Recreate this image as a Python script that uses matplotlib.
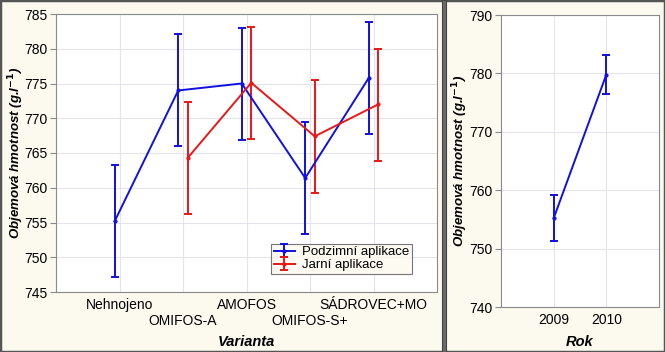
import numpy as np
import matplotlib.pyplot as plt
from matplotlib.patches import Rectangle

plt.rcParams['font.family'] = ['Liberation Sans', 'DejaVu Sans']

# left panel data
varianty = ['Nehnojeno', 'OMIFOS-A', 'AMOFOS', 'OMIFOS-S+', 'SÁDROVEC+MO']
podzim = [755.2, 774.0, 775.0, 761.4, 775.8]
podzim_lo = [747.2, 766.0, 766.8, 753.3, 767.7]
podzim_hi = [763.3, 782.1, 783.0, 769.5, 783.8]
jaro_idx = [1, 2, 3, 4]
jaro = [764.3, 775.1, 767.4, 772.0]
jaro_lo = [756.2, 767.0, 759.3, 763.8]
jaro_hi = [772.4, 783.2, 775.5, 780.0]

# right panel data
roky = ['2009', '2010']
rok_mean = [755.2, 779.8]
rok_lo = [751.3, 776.5]
rok_hi = [759.1, 783.2]

bg = '#fcf9ee'
ylab = r'Objemová hmotnost (g.l$^{\mathbf{-1}}$)'

fig = plt.figure(figsize=(6.65, 3.52), dpi=100, facecolor=bg)

# frame + separator between the two panels
fig.patches.append(Rectangle((0, 0), 1, 1, transform=fig.transFigure, fill=False,
                             edgecolor='#555555', linewidth=2.5))
fig.patches.append(Rectangle((441.5 / 665, 0), 4.5 / 665, 1, transform=fig.transFigure,
                             facecolor='#6a6a6a', edgecolor='#444444', linewidth=0.8))


def style(ax):
    ax.set_facecolor('white')
    ax.grid(True, which='both', color='#e4e4ec', linewidth=0.8)
    ax.set_axisbelow(True)
    for s in ax.spines.values():
        s.set_color('#8a8a8a')
        s.set_linewidth(0.8)
    ax.tick_params(axis='y', labelsize=10, length=4, color='#8a8a8a', pad=2)
    ax.tick_params(axis='x', which='both', labelsize=10, length=0, pad=4)


# ---- left panel
ax = fig.add_axes([56 / 665, 60 / 352, 381 / 665, 278 / 352])
style(ax)
x = np.arange(len(varianty))
off = 0.075
xb = x - off
yerr_b = [np.array(podzim) - np.array(podzim_lo), np.array(podzim_hi) - np.array(podzim)]
ax.errorbar(xb, podzim, yerr=yerr_b, color='#1010e0', lw=1.4, capsize=3, capthick=1.4,
            marker='o', ms=2, label='Podzimní aplikace')
xr = np.array(jaro_idx) + off
yerr_r = [np.array(jaro) - np.array(jaro_lo), np.array(jaro_hi) - np.array(jaro)]
ax.errorbar(xr, jaro, yerr=yerr_r, color='#e81818', lw=1.4, capsize=3, capthick=1.4,
            marker='o', ms=2, label='Jarní aplikace')
ax.set_xlim(-1, 5)
ax.set_ylim(745, 785)
ax.set_yticks(np.arange(745, 786, 5))
# staggered category labels: even ones on the first row, odd ones below
ax.set_xticks(x[::2])
ax.set_xticklabels(varianty[::2])
ax.set_xticks(x[1::2], minor=True)
ax.set_xticklabels(varianty[1::2], minor=True)
ax.tick_params(axis='x', which='minor', pad=16)
ax.set_xlabel('Varianta', fontsize=10.5, fontweight='bold', style='italic')
ax.xaxis.set_label_coords(0.5, -0.155)
ax.set_ylabel(ylab, fontsize=9.5, fontweight='bold', style='italic')
ax.yaxis.set_label_coords(-0.079, 0.5)
leg = ax.legend(loc='lower left', bbox_to_anchor=(0.565, 0.065), fontsize=9.5,
                frameon=True, fancybox=False, borderpad=0.2, handlelength=1.6,
                handletextpad=0.5, labelspacing=0.05, borderaxespad=0)
leg.get_frame().set_edgecolor('#555555')
leg.get_frame().set_facecolor(bg)
leg.get_frame().set_linewidth(0.8)

# ---- right panel
ax2 = fig.add_axes([501 / 665, 45 / 352, 158 / 665, 292 / 352])
style(ax2)
xr2 = np.arange(len(roky))
yerr2 = [np.array(rok_mean) - np.array(rok_lo), np.array(rok_hi) - np.array(rok_mean)]
ax2.errorbar(xr2, rok_mean, yerr=yerr2, color='#1010e0', lw=1.4, capsize=3, capthick=1.4,
             marker='o', ms=2)
ax2.set_xlim(-1, 2)
ax2.set_ylim(740, 790)
ax2.set_yticks(np.arange(740, 791, 10))
ax2.set_xticks(xr2)
ax2.set_xticklabels(roky)
ax2.set_xlabel('Rok', fontsize=10.5, fontweight='bold', style='italic', labelpad=6)
ax2.set_ylabel(ylab, fontsize=9.5, fontweight='bold', style='italic')
ax2.yaxis.set_label_coords(-0.195, 0.5)

fig.savefig('out.png', dpi=100, facecolor=bg)
